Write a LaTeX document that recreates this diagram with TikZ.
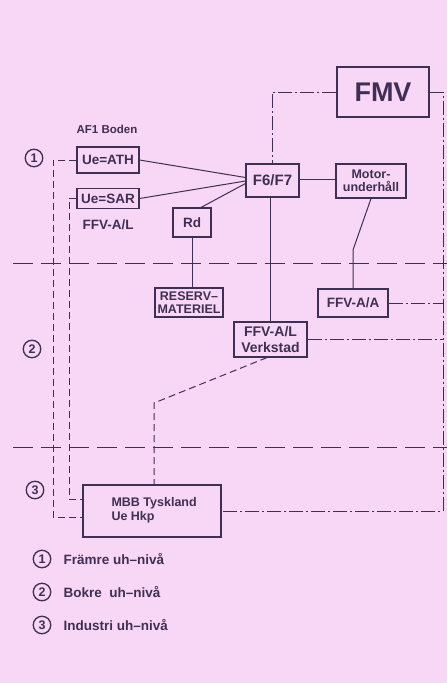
\documentclass[tikz,border=0pt]{standalone}
\usepackage{fontspec}
\setmainfont{Liberation Sans}
\usetikzlibrary{calc}
\definecolor{bg}{RGB}{248,214,245}
\definecolor{ink}{RGB}{62,48,84}
\begin{document}
\begin{tikzpicture}[x=1pt,y=-1pt,
  box/.style={draw=ink, line width=1.1pt, inner sep=0pt, font=\bfseries\fontsize{13.5}{15}\selectfont, text=ink, align=center},
  conn/.style={draw=ink, line width=1pt},
  dsh/.style={conn, dash pattern=on 7pt off 4pt},
  dd/.style={conn, dash pattern=on 14pt off 3pt on 2pt off 3pt},
  level/.style={conn, dash pattern=on 20pt off 8pt},
  num/.style={circle, draw=ink, line width=1.3pt, minimum size=17.5pt, inner sep=0pt, font=\bfseries\fontsize{12.5}{12.5}\selectfont, text=ink},
  lbl/.style={font=\bfseries\fontsize{11.5}{13.5}\selectfont, text=ink},
  leg/.style={font=\bfseries\fontsize{13.5}{15}\selectfont, text=ink}]
\fill[bg] (0,0) rectangle (447,683);
\useasboundingbox (0,0) rectangle (447,683);

% level dividers
\coordinate (lv1a) at (13,263); \coordinate (lv1b) at (447,263);
\coordinate (lv2a) at (13,447); \coordinate (lv2b) at (447,447);
\draw[level] (lv1a) -- (lv1b);
\draw[level] (lv2a) -- (lv2b);

% boxes
\node[box, minimum width=92pt, minimum height=50pt, font=\bfseries\fontsize{27}{29}\selectfont] (fmv) at (383,92) {FMV};
\node[box, minimum width=53pt, minimum height=33pt, font=\bfseries\fontsize{15}{16}\selectfont] (f6) at (272.5,180.5) {F6/F7};
\node[box, minimum width=70pt, minimum height=34pt, font=\bfseries\fontsize{12.5}{13.5}\selectfont] (motor) at (371,181) {Motor-\\underhåll};
\node[box, minimum width=62pt, minimum height=26pt] (ath) at (108,160) {Ue=ATH};
\node[box, minimum width=62pt, minimum height=20pt] (sar) at (108,198.5) {Ue=SAR};
\node[box, minimum width=38pt, minimum height=29pt] (rd) at (192,222.5) {Rd};
\node[box, line width=1.5pt, minimum width=68pt, minimum height=29pt, font=\bfseries\fontsize{12.5}{12.5}\selectfont] (res) at (189,302.5) {RESERV–\\MATERIEL};
\node[box, minimum width=70pt, minimum height=28pt] (ffvaa) at (353,303) {FFV-A/A};
\node[box, minimum width=73pt, minimum height=35pt, font=\bfseries\fontsize{14}{15.5}\selectfont] (verk) at (270.5,339.5) {FFV-A/L\\Verkstad};
\node[box, minimum width=138pt, minimum height=52pt] (mbb) at (152,511) {};
\node[lbl, anchor=west, align=left, font=\bfseries\fontsize{12.5}{14}\selectfont] (mbbt) at (108,510) {MBB Tyskland\\Ue Hkp};

% labels
\node[lbl] (af1) at (107,129) {AF1 Boden};
\node[lbl, font=\bfseries\fontsize{13.5}{15}\selectfont] (ffval) at (108,225) {FFV-A/L};

% level numbers
\node[num] (c1) at (34,158) {1};
\node[num] (c2) at (32,349) {2};
\node[num] (c3) at (35,490) {3};

% legend
\node[num] (g1) at (42,559) {1};
\node[num] (g2) at (42,592) {2};
\node[num] (g3) at (42,625) {3};
\node[leg, anchor=west] (t1) at (60,559) {Främre uh–nivå};
\node[leg, anchor=west] (t2) at (60,592) {Bokre\ \ uh–nivå};
\node[leg, anchor=west] (t3) at (60,625) {Industri uh–nivå};

% solid connectors
\draw[conn] (ath.east) -- ([yshift=3pt]f6.west);
\draw[conn] (sar.east) -- ([yshift=-0.5pt]f6.west);
\draw[conn] ([xshift=9pt]rd.north) -- ([yshift=-3pt]f6.west);
\draw[conn] ([yshift=1.5pt]f6.east) -- ([yshift=1.5pt]f6.east -| motor.west);
\draw[conn] (verk.north) -- (verk.north |- f6.south);
\draw[conn] (rd.south) -- (rd.south |- res.north);
\coordinate (mk) at (353,250);
\draw[conn] (motor.south) -- (mk) -- (ffvaa.north);

% dash-dot connectors
\draw[dd] (fmv.west) -- (fmv.west -| f6.north) -- (f6.north);
\coordinate (re1) at (443,92);
\draw[dd] (fmv.east) -- (re1) -- (re1 |- mbb.east) -- (mbb.east);
\draw[dd] (ffvaa.east) -- (ffvaa.east -| re1);
\draw[dd] (verk.east) -- (verk.east -| re1);

% dashed connectors
\coordinate (vk) at (154,403);
\draw[dsh] ([xshift=-3.5pt]verk.south) -- (vk) -- (vk |- mbb.north);
\coordinate (la) at (53,160); \coordinate (lab) at (53,517);
\draw[dsh] (ath.west) -- (la) -- (lab) -- (lab -| mbb.west);
\coordinate (lb) at (69,198.5); \coordinate (lbb) at (69,499);
\draw[dsh] (sar.west) -- (lb) -- (lbb) -- (lbb -| mbb.west);
\end{tikzpicture}
\end{document}
